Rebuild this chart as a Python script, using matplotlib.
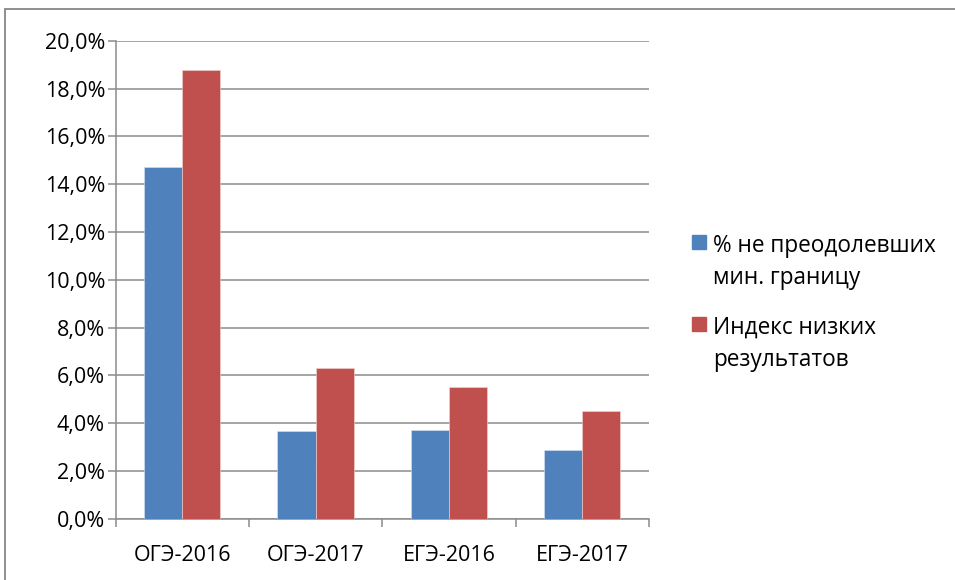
import matplotlib
matplotlib.use("Agg")
import matplotlib.pyplot as plt
from matplotlib.patches import Rectangle
import numpy as np

plt.rcParams['font.family'] = ['Open Sans', 'DejaVu Sans']

categories = ["ОГЭ-2016", "ОГЭ-2017", "ЕГЭ-2016", "ЕГЭ-2017"]
series_names = ["% не преодолевших\nмин. границу", "Индекс низких\nрезультатов"]
share_below_min = [14.7, 3.67, 3.71, 2.87]
low_results_index = [18.77, 6.31, 5.52, 4.51]
y_ticks = [0, 2, 4, 6, 8, 10, 12, 14, 16, 18, 20]
y_tick_labels = ["0,0%", "2,0%", "4,0%", "6,0%", "8,0%", "10,0%", "12,0%",
                 "14,0%", "16,0%", "18,0%", "20,0%"]

colors = ["#4F81BD", "#C0504D"]
grid_col = "#8C8C8C"
W, H = 955, 580
fig = plt.figure(figsize=(W / 100, H / 100), dpi=100)
ax = fig.add_axes([115.5 / W, 1 - 518.7 / H, (649 - 115.5) / W, (518.7 - 40.7) / H])

x = np.arange(len(categories))
bw = 1 / 3.5
ax.bar(x - bw / 2, share_below_min, bw, color=colors[0], zorder=3,
       edgecolor="#d9e3f0", linewidth=0.4)
ax.bar(x + bw / 2, low_results_index, bw, color=colors[1], zorder=3,
       edgecolor="#f0d5d4", linewidth=0.4)

ax.set_xlim(-0.5, len(categories) - 0.5)
ax.set_ylim(0, 20)
ax.set_yticks(y_ticks)
ax.set_yticklabels(y_tick_labels, fontsize=15.5)
ax.yaxis.grid(True, color=grid_col, linewidth=1.1, zorder=0)
ax.set_axisbelow(True)

ax.set_xticks(np.arange(-0.5, len(categories), 1.0))
ax.set_xticklabels([])
ax.set_xticks(x, minor=True)
ax.set_xticklabels(categories, minor=True, fontsize=15.5)
ax.tick_params(axis='x', which='minor', length=0, pad=19)
ax.tick_params(axis='x', which='major', length=6, width=1.1, color=grid_col, direction='out')
ax.tick_params(axis='y', length=6, width=1.1, color=grid_col, direction='out', pad=1.5)

for s in ["top", "right"]:
    ax.spines[s].set_visible(False)
for s in ["left", "bottom"]:
    ax.spines[s].set_color(grid_col)
    ax.spines[s].set_linewidth(1.1)

# legend (manual, square aligned with first line)
square_y = [242, 324]
first_baseline = [252, 334]
line_step = 32
for i, (name, c) in enumerate(zip(series_names, colors)):
    fig.patches.append(Rectangle((692 / W, 1 - (square_y[i] + 7) / H), 14 / W, 14 / H,
                                 transform=fig.transFigure, color=c))
    for j, line in enumerate(name.split("\n")):
        fig.text(713 / W, 1 - (first_baseline[i] + j * line_step) / H, line,
                 fontsize=16.3, va='baseline', ha='left', transform=fig.transFigure)

# outer chart frame (cropped)
fig.patches.append(Rectangle((4.5 / W, -0.1), 1.2, 1 - 9 / H + 0.1, transform=fig.transFigure,
                             fill=False, edgecolor="#868686", linewidth=1.3))

fig.savefig("out.png", dpi=100)
